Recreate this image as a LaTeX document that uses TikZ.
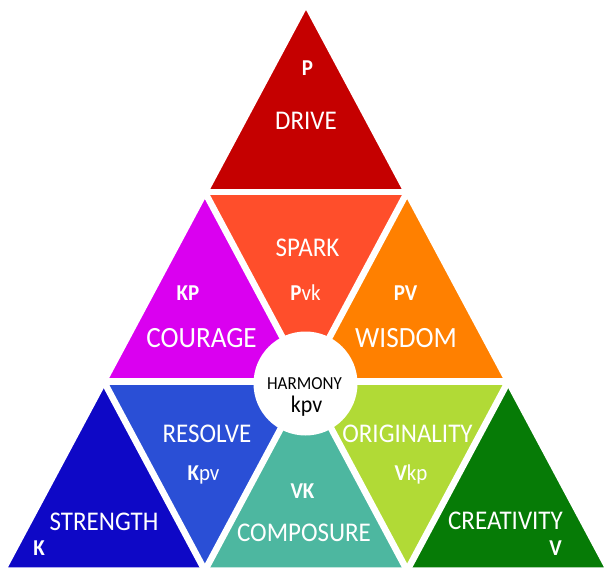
\documentclass[tikz,border=0pt]{standalone}
\usepackage{fontspec}
\setmainfont{Carlito}
\usepackage{graphicx}
\definecolor{cDrive}{RGB}{197,0,0}
\definecolor{cSpark}{RGB}{255,78,43}
\definecolor{cCourage}{RGB}{218,0,240}
\definecolor{cWisdom}{RGB}{255,128,0}
\definecolor{cStrength}{RGB}{14,8,198}
\definecolor{cResolve}{RGB}{42,79,214}
\definecolor{cComposure}{RGB}{77,183,160}
\definecolor{cOriginality}{RGB}{177,218,54}
\definecolor{cCreativity}{RGB}{6,123,6}
\newcommand{\vstretch}[1]{\scalebox{1}[1.08]{#1}}
\begin{document}
\begin{tikzpicture}[x=1pt,y=-1pt,
  biglbl/.style={text=white,font=\fontsize{25}{25}\selectfont,anchor=base,inner sep=0pt},
  widelbl/.style={biglbl,font=\fontsize{27.2}{27}\selectfont},
  codelbl/.style={text=white,font=\fontsize{21}{21}\selectfont,anchor=base,inner sep=0pt},
  gapline/.style={draw=white,line width=6.5pt,line cap=rect,line join=miter}]
\fill[white] (0,0) rectangle (613,577);
\useasboundingbox (0,0) rectangle (613,577);
% lattice points
\coordinate (A)  at (306,3);
\coordinate (B1) at (204.87,192.17);
\coordinate (B2) at (407.13,192.17);
\coordinate (C1) at (103.73,381.33);
\coordinate (C2) at (306,381.33);
\coordinate (C3) at (508.27,381.33);
\coordinate (D1) at (2.6,570.5);
\coordinate (D2) at (204.87,570.5);
\coordinate (D3) at (407.13,570.5);
\coordinate (D4) at (609.4,570.5);
% triangles
\fill[cDrive] (A) -- (B1) -- (B2) -- cycle;
\fill[cCourage] (B1) -- (C1) -- (C2) -- cycle;
\fill[cSpark] (B1) -- (B2) -- (C2) -- cycle;
\fill[cWisdom] (B2) -- (C2) -- (C3) -- cycle;
\fill[cStrength] (C1) -- (D1) -- (D2) -- cycle;
\fill[cResolve] (C1) -- (C2) -- (D2) -- cycle;
\fill[cComposure] (C2) -- (D2) -- (D3) -- cycle;
\fill[cOriginality] (C2) -- (C3) -- (D3) -- cycle;
\fill[cCreativity] (C3) -- (D3) -- (D4) -- cycle;
% white gaps
\draw[gapline] (A) -- (D1) -- (D4) -- cycle;
\draw[gapline] (B1) -- (B2);
\draw[gapline] (C1) -- (C3);
\draw[gapline] (B2) -- (D2);
\draw[gapline] (C3) -- (D3);
\draw[gapline] (B1) -- (D3);
\draw[gapline] (C1) -- (D2);
% centre circle
\node[circle,fill=white,minimum size=104pt,inner sep=0pt] (hcircle) at (305.5,383.5) {};
% labels
\node[codelbl] (p) at (307.5,76) {\vstretch{\bfseries P}};
\node[biglbl] (drive) at (306,130) {\vstretch{DRIVE}};
\node[biglbl] (spark) at (307.5,257) {\vstretch{SPARK}};
\node[codelbl] (pvk) at (305.5,301) {\vstretch{{\bfseries P}vk}};
\node[codelbl] (kp) at (188,301) {\vstretch{\bfseries KP}};
\node[widelbl] (courage) at (201.5,347) {\vstretch{COURAGE}};
\node[codelbl] (pv) at (405.5,301) {\vstretch{\bfseries PV}};
\node[widelbl] (wisdom) at (406,347) {\vstretch{WISDOM}};
\node[anchor=base,inner sep=0pt,font=\fontsize{17}{17}\selectfont] (harmony) at (304.5,389) {\vstretch{HARMONY}};
\node[anchor=base,inner sep=0pt,font=\fontsize{22}{22}\selectfont] (kpv) at (306.5,412) {\vstretch{kpv}};
\node[biglbl] (resolve) at (207,442) {\vstretch{RESOLVE}};
\node[codelbl] (kpv2) at (203.5,480) {\vstretch{{\bfseries K}pv}};
\node[biglbl] (originality) at (407.5,442) {\vstretch{ORIGINALITY}};
\node[codelbl] (vkp) at (411,480) {\vstretch{{\bfseries V}kp}};
\node[codelbl] (vk) at (302.5,498) {\vstretch{\bfseries VK}};
\node[biglbl] (composure) at (304,541) {\vstretch{COMPOSURE}};
\node[biglbl] (strength) at (104,530) {\vstretch{STRENGTH}};
\node[codelbl] (k) at (39,555) {\vstretch{\bfseries K}};
\node[biglbl] (creativity) at (505.5,529) {\vstretch{CREATIVITY}};
\node[codelbl] (v) at (555.5,555) {\vstretch{\bfseries V}};
\end{tikzpicture}
\end{document}
